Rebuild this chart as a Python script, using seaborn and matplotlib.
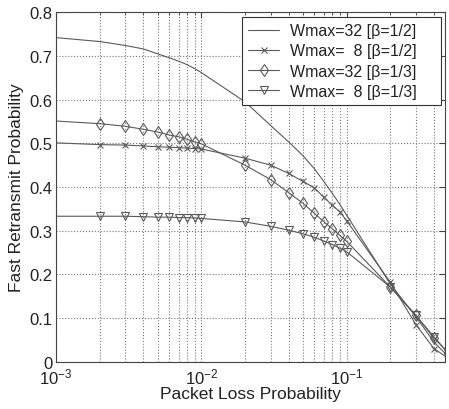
import numpy as np
import pandas as pd
import matplotlib
matplotlib.use("Agg")
import matplotlib.pyplot as plt
import seaborn as sns
from matplotlib.ticker import LogLocator, NullFormatter, MultipleLocator, FormatStrFormatter

# packet loss probabilities (x)
loss = [0.001, 0.002, 0.003, 0.004, 0.005, 0.006, 0.007, 0.008, 0.009, 0.01,
        0.02, 0.03, 0.04, 0.05, 0.06, 0.07, 0.08, 0.09, 0.1,
        0.2, 0.3, 0.4, 0.5]

# fast retransmit probability
w32_b12 = [0.742, 0.733, 0.724, 0.716, 0.705, 0.696, 0.688, 0.680, 0.671, 0.662,
           0.595, 0.541, 0.503, 0.472, 0.442, 0.412, 0.385, 0.360, 0.336,
           0.178, 0.103, 0.045, 0.012]
w8_b12 = [0.501, 0.497, 0.496, 0.494, 0.492, 0.491, 0.490, 0.489, 0.488, 0.487,
          0.466, 0.450, 0.431, 0.413, 0.398, 0.376, 0.358, 0.343, 0.323,
          0.182, 0.085, 0.030, 0.008]
w32_b13 = [0.551, 0.545, 0.539, 0.532, 0.526, 0.519, 0.515, 0.509, 0.503, 0.499,
           0.450, 0.417, 0.387, 0.363, 0.340, 0.320, 0.304, 0.289, 0.276,
           0.171, 0.106, 0.054, 0.021]
w8_b13 = [0.333, 0.333, 0.333, 0.332, 0.331, 0.331, 0.330, 0.330, 0.329, 0.328,
          0.320, 0.310, 0.301, 0.293, 0.285, 0.276, 0.268, 0.260, 0.252,
          0.171, 0.106, 0.057, 0.020]

labels = ["Wmax=32 [β=1/2]", "Wmax=  8 [β=1/2]",
          "Wmax=32 [β=1/3]", "Wmax=  8 [β=1/3]"]
series = [w32_b12, w8_b12, w32_b13, w8_b13]
markers = ["", "x", "d", "v"]
msizes = [0, 4.5, 6, 6]

sns.set_style("white")
plt.rcParams['font.family'] = ['Liberation Sans', 'DejaVu Sans']

line_col = "#5a5a5a"
text_col = "#222222"

fig = plt.figure(figsize=(4.49, 4.10), dpi=100)
ax = fig.add_axes([0.1247, 0.1154, 0.8675, 0.8522])

for vals, lab, mk, ms in zip(series, labels, markers, msizes):
    df = pd.DataFrame({"loss": loss, "prob": vals})
    kw = dict(color=line_col, linewidth=0.8, label=lab)
    if mk:
        kw.update(marker=mk, markersize=ms, markerfacecolor="none",
                  markeredgecolor=line_col, markeredgewidth=0.8,
                  markevery=slice(1, None))
    sns.lineplot(data=df, x="loss", y="prob", ax=ax, estimator=None, **kw)

ax.set_xscale("log")
ax.set_xlim(1e-3, 0.48)
ax.set_ylim(0, 0.8)
ax.yaxis.set_major_locator(MultipleLocator(0.1))
ax.yaxis.set_major_formatter(FormatStrFormatter("%g"))
ax.xaxis.set_minor_locator(LogLocator(base=10, subs=np.arange(2, 10)))
ax.xaxis.set_minor_formatter(NullFormatter())

ax.grid(True, which="major", linestyle=":", color="#777777", linewidth=0.8)
ax.grid(True, which="minor", axis="x", linestyle=":", color="#777777", linewidth=0.8)

for s in ax.spines.values():
    s.set_color("#444444")
    s.set_linewidth(0.8)
ax.tick_params(direction="in", which="both", colors="#444444", labelcolor=text_col,
               labelsize=12, top=True, right=True)
ax.tick_params(which="major", length=4, pad=2.5)
ax.tick_params(axis="x", which="major", pad=3.5)
ax.tick_params(which="minor", length=2)

ax.set_xlabel("Packet Loss Probability", fontsize=12.5, color=text_col, labelpad=0)
ax.set_ylabel("Fast Retransmit Probability", fontsize=12.5, color=text_col, labelpad=4)

leg = ax.legend(loc="upper right", bbox_to_anchor=(0.4775, 0.747, 0.511, 0.24),
                mode="expand", borderaxespad=0, fontsize=11.5,
                frameon=True, fancybox=False, edgecolor="#333333", framealpha=1,
                handlelength=1.9, handletextpad=0.7, labelspacing=0.33, borderpad=0.4)
leg.get_frame().set_linewidth(0.8)
for t in leg.get_texts():
    t.set_color(text_col)

fig.savefig("out.png", dpi=100)
